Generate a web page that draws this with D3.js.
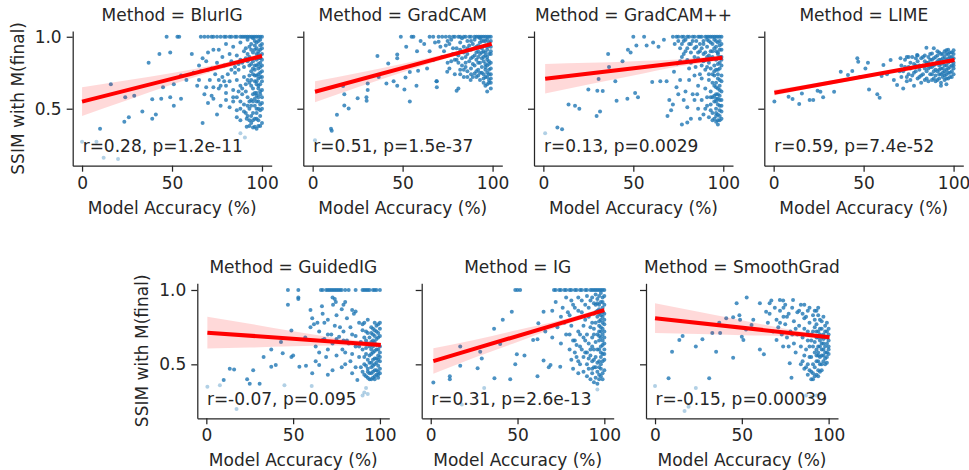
<!DOCTYPE html>
<html>
<head>
<meta charset="utf-8">
<script src="https://cdn.jsdelivr.net/npm/d3@7"></script>
<style>
  body { margin: 0; background: #fff; }
  text { font-family: "DejaVu Sans", sans-serif; fill: #262626; }
</style>
</head>
<body>
<svg id="chart" width="969" height="470"></svg>
<script>
// ---- data ----
var methods = ["BlurIG", "GradCAM", "GradCAM++", "LIME", "GuidedIG", "IG", "SmoothGrad"]
var statLabels = ["r=0.28, p=1.2e-11", "r=0.51, p=1.5e-37", "r=0.13, p=0.0029", "r=0.59, p=7.4e-52",
                  "r=-0.07, p=0.095", "r=0.31, p=2.6e-13", "r=-0.15, p=0.00039"]

// fitted line: x range and y at both ends
var fitX0 = [0, 1.3, 1, 0.4, 0.6, 1.5, 0]
var fitX1 = [100, 99.5, 99.5, 100.5, 100.5, 100, 100.5]
var fitY0 = [0.549, 0.618, 0.708, 0.611, 0.713, 0.522, 0.81]
var fitY1 = [0.866, 0.951, 0.854, 0.838, 0.63, 0.865, 0.682]
// half width of the confidence band at x = 0, 25, 50, 75, 100
var ciX = [0, 25, 50, 75, 100]
var ciHalf = [
  [0.10, 0.07, 0.04, 0.02, 0.018],
  [0.073, 0.05, 0.03, 0.015, 0.012],
  [0.103, 0.075, 0.05, 0.025, 0.018],
  [0.02, 0.015, 0.01, 0.006, 0.006],
  [0.107, 0.08, 0.05, 0.025, 0.018],
  [0.086, 0.06, 0.04, 0.02, 0.018],
  [0.10, 0.075, 0.05, 0.025, 0.015]
]

var blurIG = [[47,1],[53,1],[54,1],[66,1],[68,1],[70,1],[72,1],[73,1],[75,1],[77,1],[79,1],[80,1],[82,1],[83,1],[85,1],[86,1],[88,1],[89,1],[90,1],[91,1],[92,1],[93,1],[94,1],[95,1],[96,1],[97,1],[98,1],[99,1],[100,1],
  [43,0.88],[49,0.89],[61,0.88],[67,0.85],[70,0.89],[73,0.91],[76,0.91],[78,0.86],[80,0.95],[82,0.88],[84,0.93],[86,0.87],[88,0.96],[91,0.92],[93,0.86],[94,0.95],[95,0.89],[96,0.97],[97,0.92],[98,0.9],[99,0.94],[100,0.88],[92,0.98],[95,0.99],[97,0.96],[99,0.98],[93,0.93],[96,0.91],[98,0.97],[100,0.95],
  [37,0.82],[62,0.75],[65,0.8],[69,0.83],[72,0.78],[75,0.82],[79,0.8],[83,0.77],[85,0.75],[87,0.81],[90,0.79],[92,0.83],[93,0.8],[94,0.76],[96,0.8],[97,0.84],[98,0.78],[99,0.82],[100,0.76],[95,0.83],[96,0.77],[98,0.85],[99,0.79],[88,0.84],
  [16,0.67],[45,0.65],[51,0.67],[55,0.73],[58,0.7],[65,0.7],[69,0.65],[71,0.7],[73,0.65],[76,0.64],[78,0.72],[80,0.61],[82,0.69],[84,0.63],[86,0.7],[88,0.66],[90,0.72],[91,0.62],[93,0.68],[94,0.7],[95,0.64],[96,0.73],[97,0.67],[98,0.71],[99,0.62],[100,0.69],[95,0.74],[97,0.61],[99,0.72],[94,0.66],[96,0.69],[98,0.64],
  [24,0.58],[29,0.59],[39,0.565],[44,0.57],[49,0.58],[51,0.52],[55,0.57],[70,0.54],[72,0.59],[75,0.46],[77,0.52],[80,0.56],[82,0.51],[84,0.58],[86,0.49],[88,0.55],[89,0.6],[90,0.53],[91,0.47],[92,0.58],[93,0.5],[94,0.56],[95,0.47],[96,0.52],[97,0.59],[98,0.55],[99,0.49],[100,0.58],[95,0.55],[97,0.5],[94,0.52],[96,0.57],
  [10,0.36],[23.5,0.41],[26,0.44],[33.5,0.48],[39,0.43],[41,0.46],[67,0.4],[86,0.44],[88,0.42],[91.5,0.375],[91.5,0.43],[92,0.45],[93,0.38],[94,0.4],[96,0.375],[97,0.43],[95,0.42],
  [98,0.42],[99,0.45],[97,0.47],[100,0.5],[98,0.5],[99,0.53],[97,0.55],[100,0.54],[98,0.58],[99,0.6],[96,0.61],[100,0.63],[98,0.66],[97,0.69],[99,0.67],[100,0.72],[98,0.74],[97,0.73],[99,0.75],[100,0.8],[98,0.81],[97,0.8],[99,0.85],[100,0.84],[98,0.88],[97,0.88],[99,0.91],[100,0.92],[96,0.94],[94,0.91],[92,0.88],[90,0.9],[91,0.85],[89,0.82],[87,0.77],[85,0.79],[83,0.83],[81,0.74],[79,0.69],[77,0.66],[92,0.7],[93,0.73],[95,0.78],[94,0.81],[91,0.67],[89,0.64],[87,0.62],[93,0.55],[95,0.6],[92,0.52],[90,0.48],[94,0.45],[96,0.43],[98,0.38],[97,0.36],[95,0.37],[93,0.42],[100,0.4],[99,0.38],[84,0.55],[86,0.58],[88,0.5],[80,0.66],[76,0.7],[74,0.74],[70,0.77],[66,0.76],[64,0.66],[68,0.6],[73,0.57]]
var blurIGFaint = [[0,0.27],[8,0.27],[12,0.16],[20,0.15],[88,0.33],[90.5,0.3]]

var gradCAM = [[49,1],[55,1],[56,1],[65,1],[67,1],[70,1],[72,1],[74,1],[76,1],[78,1],[79,1],[81,1],[82,1],[84,1],[85,1],[87,1],[88,1],[90,1],[91,1],[92,1],[93,1],[94,1],[95,1],[96,1],[97,1],[98,1],[99,1],
  [52,0.93],[58,0.9],[62,0.95],[70,0.965],[65,0.9],[74,0.94],[77,0.98],[80,0.92],[82,0.96],[84,0.93],[86,0.97],[88,0.91],[89,0.95],[90,0.98],[91,0.93],[92,0.9],[93,0.96],[94,0.92],[95,0.97],[96,0.94],[97,0.91],[98,0.96],[99,0.93],[97,0.98],[95,0.9],[93,0.99],[87,0.94],[83,0.99],
  [36,0.866],[42,0.815],[47,0.877],[47,0.85],[67,0.838],[72,0.86],[75,0.82],[78,0.88],[80,0.84],[81,0.87],[83,0.85],[85,0.82],[86,0.88],[88,0.85],[89,0.81],[90,0.87],[91,0.84],[92,0.82],[93,0.88],[94,0.85],[95,0.83],[96,0.87],[97,0.84],[98,0.81],[99,0.88],[96,0.81],[94,0.89],[92,0.86],
  [36.7,0.72],[51.6,0.717],[54,0.755],[58.6,0.764],[63.6,0.78],[74.8,0.757],[69,0.69],[84,0.72],[87.8,0.7],[90,0.745],[93,0.7],[95,0.71],[97,0.67],[76,0.78],[79,0.74],[82,0.77],[86,0.76],[88,0.78],[91,0.76],[92,0.73],[94,0.75],[96,0.77],[98,0.74],[99,0.78],[89,0.72],[96,0.72],[98,0.7],[85,0.79],
  [16.9,0.657],[17.6,0.6],[30.6,0.676],[30.6,0.63],[41,0.676],[45,0.69],[47,0.66],[51,0.634],[57.7,0.66],[68.8,0.69],[69,0.65],[80,0.625],[81,0.64],[99,0.68],
  [25,0.572],[29.9,0.58],[30,0.556],[17.6,0.523],[20,0.502],[13.5,0.458],[54,0.55],
  [10.2,0.36],[10.6,0.347],
  [96,0.66],[98,0.68],[97,0.72],[99,0.71],[95,0.74],[97,0.75],[98,0.77],[99,0.74],[96,0.79],[97,0.8],[98,0.83],[99,0.82],[95,0.86],[97,0.86],[98,0.88],[99,0.9],[96,0.89],[97,0.93],[98,0.94],[99,0.97],[96,0.97],[94,0.97],[92,0.94],[90,0.92],[88,0.97],[86,0.92],[84,0.89],[82,0.91],[80,0.88],[78,0.92],[76,0.95],[91,0.89],[89,0.86],[87,0.83],[85,0.86],[83,0.8],[81,0.82],[79,0.84],[77,0.83],[93,0.82],[94,0.79],[92,0.77],[90,0.8],[88,0.74],[86,0.72],[84,0.77],[82,0.74],[93,0.75],[91,0.72],[95,0.68],[97,0.62],[99,0.64],[73,0.9],[75,0.97],[71,0.93],[68,0.96],[60,0.97]]
var gradCAMFaint = [[1.3,0.28]]

var gradCAMpp = [[50,1],[56,1],[67,0.98],[72,1],[74,1],[75,1],[77,1],[78,1],[80,1],[81,1],[83,1],[84,1],[86,1],[87,1],[88,1],[90,1],[91,1],[92,1],[93,1],[94,1],[95,1],[96,1],[97,1],[98,1],[99,1],
  [51.7,0.94],[57.4,0.94],[47,0.91],[48.5,0.89],[36,0.88],[61,0.96],[64,0.93],[73,0.95],[76,0.92],[78,0.97],[79,0.9],[82,0.95],[84,0.92],[85,0.97],[87,0.9],[89,0.88],[89,0.95],[91,0.93],[92,0.97],[93,0.9],[94,0.95],[95,0.92],[96,0.97],[97,0.89],[98,0.94],[99,0.91],[96,0.9],[98,0.97],
  [44,0.83],[36.5,0.79],[72.6,0.757],[74.4,0.815],[80,0.838],[84.6,0.79],[91,0.79],[77,0.86],[82,0.82],[86,0.85],[88,0.8],[90,0.84],[92,0.82],[93,0.78],[94,0.86],[95,0.8],[96,0.84],[97,0.77],[98,0.82],[99,0.86],[95,0.76],[97,0.85],[93,0.85],
  [30.7,0.706],[40,0.69],[25,0.634],[30,0.625],[33,0.623],[51,0.61],[60.5,0.685],[65,0.69],[68.5,0.69],[74,0.65],[76,0.7],[81,0.7],[84,0.73],[79,0.62],[86,0.66],[88,0.71],[90,0.64],[92,0.7],[93,0.62],[94,0.68],[95,0.73],[96,0.65],[97,0.71],[98,0.63],[99,0.69],[96,0.6],[94,0.74],
  [40.7,0.556],[46.7,0.57],[52.6,0.58],[14,0.53],[17.6,0.52],[20,0.5],[31.5,0.48],[70,0.56],[71,0.49],[78,0.56],[80,0.51],[84,0.56],[85.5,0.6],[88,0.56],[90,0.5],[91,0.58],[93,0.53],[94,0.47],[95,0.55],[96,0.5],[97,0.57],[98,0.52],[99,0.48],[95,0.59],[97,0.46],[96,0.55],[94,0.58],[98,0.56],[93,0.49],
  [29.6,0.45],[7.8,0.37],[10.4,0.357],[69,0.45],[77,0.39],[80,0.405],[82,0.43],[87,0.43],[92,0.44],[95,0.43],[96,0.41],[97,0.39],[98,0.42],[96,0.45],[94,0.42],
  [97,0.42],[98,0.45],[99,0.43],[96,0.47],[98,0.49],[99,0.52],[97,0.53],[96,0.57],[98,0.59],[99,0.56],[97,0.6],[98,0.66],[99,0.62],[97,0.64],[96,0.68],[98,0.7],[99,0.73],[97,0.74],[96,0.77],[98,0.78],[99,0.8],[97,0.81],[98,0.86],[99,0.84],[97,0.88],[96,0.93],[98,0.91],[99,0.95],[97,0.96],[95,0.98],[93,0.96],[91,0.98],[89,0.97],[87,0.95],[85,0.93],[83,0.97],[81,0.95],[79,0.98],[77,0.95],[75,0.97],[88,0.92],[86,0.89],[84,0.86],[82,0.89],[80,0.92],[78,0.88],[90,0.89],[92,0.87],[94,0.9],[91,0.86],[89,0.83],[76,0.83],[81,0.78],[87,0.74],[90,0.77],[92,0.74],[95,0.66],[93,0.58],[91,0.52],[89,0.46],[86,0.5],[83,0.6],[75,0.6],[72,0.53]]
var gradCAMppFaint = [[1,0.33]]

var lime = [[0.4,0.55],[8.3,0.583],[10.5,0.567],[14.2,0.532],[15.7,0.606],[20,0.56],[22,0.56],[24.4,0.625],[26,0.618],[27.5,0.58],[33.6,0.618],[37.3,0.757],[41.3,0.734],[43.7,0.762],[46.5,0.85],[47,0.826],[52.4,0.82],[51,0.78],[48,0.72],[53,0.634],[57.6,0.6],[58.9,0.576],[60,0.727],[63,0.74],[61,0.803],[65,0.838],[66.8,0.7],[68.6,0.664],[72,0.64],[74,0.69],[70.5,0.85],[79.7,0.873],[84.9,0.924],[88,0.884],[96,0.907],[100,0.907],
  [71,0.8],[72,0.76],[73,0.84],[74,0.72],[75,0.79],[76,0.82],[76,0.7],[77,0.86],[78,0.75],[79,0.8],[80,0.71],[80,0.83],[81,0.77],[82,0.85],[82,0.73],[83,0.8],[84,0.7],[84,0.87],[85,0.76],[86,0.82],[86,0.69],[87,0.79],[87,0.88],[88,0.74],[88,0.84],[89,0.71],[89,0.8],[90,0.86],[90,0.77],[91,0.83],[91,0.7],[92,0.8],[92,0.89],[92,0.74],[93,0.84],[93,0.68],[93,0.78],[94,0.88],[94,0.72],[94,0.82],[95,0.76],[95,0.86],[95,0.7],[96,0.8],[96,0.84],[96,0.74],[97,0.88],[97,0.78],[97,0.71],[98,0.83],[98,0.86],[98,0.75],[99,0.8],[99,0.89],[99,0.72],[100,0.85],[100,0.78],[100,0.82],[95,0.9],[97,0.91],[91,0.9],[89,0.92],[93,0.66],[96,0.67],[78,0.66],[82,0.68],
  [70,0.76],[71,0.72],[73,0.79],[74,0.86],[75,0.74],[76,0.78],[77,0.73],[78,0.81],[79,0.76],[80,0.87],[81,0.8],[81,0.72],[83,0.74],[83,0.86],[84,0.78],[85,0.82],[85,0.71],[86,0.78],[87,0.74],[87,0.84],[88,0.79],[88,0.7],[89,0.85],[89,0.76],[90,0.81],[90,0.73],[91,0.76],[91,0.87],[92,0.77],[92,0.84],[93,0.81],[93,0.74],[93,0.88],[94,0.78],[94,0.85],[95,0.73],[95,0.8],[95,0.83],[96,0.77],[96,0.88],[96,0.71],[97,0.75],[97,0.82],[97,0.85],[98,0.72],[98,0.79],[98,0.89],[99,0.76],[99,0.83],[99,0.86],[100,0.74],[100,0.8],[100,0.88],[94,0.75],[92,0.71],[90,0.69],[86,0.86],[84,0.83],[79,0.85],[75,0.86]]
var limeFaint = []

var guidedIG = [[47,1],[53,1],[66,1],[67,1],[69,1],[70,1],[71,1],[72,1],[73,1],[74,1],[75,1],[76,1],[77,1],[78,1],[80,1],[82,1],[86,1],[90,1],[91,1],[92,1],[93,1],[94,1],[96,1],[97,1],[98,1],[100,1],
  [47,0.9],[53,0.95],[53,0.94],[60,0.866],[66.6,0.89],[72.7,0.95],[74.6,0.92],[74,0.94],[80,0.92],[79,0.9],[84,0.866],[86,0.855],[85,0.84],[73,0.9],
  [49,0.727],[43,0.65],[37.4,0.6],[33,0.55],[44,0.574],[49,0.55],[50,0.56],[63,0.62],[67,0.664],[72.7,0.64],[76.5,0.686],[78.4,0.6],[84,0.57],[60,0.75],[62,0.77],[65,0.72],[68,0.78],[70,0.7],[74,0.76],[79,0.72],[81,0.66],[83,0.75],[86,0.69],[88,0.62],[88,0.78],[90,0.73],[91,0.78],[92,0.66],[93,0.8],[93,0.71],[94,0.62],[95,0.75],[96,0.7],[96,0.58],[97,0.78],[97,0.65],[98,0.72],[98,0.6],[99,0.68],[99,0.56],[100,0.74],[100,0.62],[94,0.68],[95,0.6],[92,0.57],[90,0.6],[57,0.68],[70,0.6],[75,0.56],[80,0.58],
  [37.4,0.484],[40,0.495],[27,0.46],[13.5,0.47],[16,0.466],[10,0.395],[23.5,0.4],[25,0.37],[30.7,0.37],[53.6,0.484],[57.4,0.49],[65,0.495],[69,0.55],[72.7,0.46],[70,0.43],[84,0.44],[87,0.395],[90,0.45],[91,0.5],[92,0.42],[93,0.47],[93,0.53],[94,0.44],[94,0.51],[95,0.4],[95,0.48],[96,0.45],[96,0.53],[97,0.42],[97,0.5],[98,0.46],[98,0.54],[99,0.41],[99,0.49],[100,0.44],[100,0.52],[91,0.43],[89,0.48],[61,0.44],[78,0.48],
  [95,0.44],[96,0.41],[97,0.46],[98,0.43],[99,0.45],[100,0.47],[95,0.51],[96,0.49],[97,0.54],[98,0.51],[99,0.53],[100,0.55],[94,0.56],[95,0.57],[96,0.62],[97,0.59],[98,0.63],[99,0.6],[100,0.58],[95,0.65],[96,0.66],[97,0.69],[98,0.67],[99,0.71],[100,0.69],[95,0.71],[96,0.74],[97,0.73],[98,0.76],[99,0.77],[100,0.78],[93,0.45],[92,0.49],[91,0.55],[92,0.61],[93,0.64],[91,0.68],[92,0.72],[90,0.77],[89,0.65],[88,0.55],[86,0.62],[84,0.7],[82,0.64],[79,0.66],[77,0.75],[75,0.67],[72,0.7],[68,0.67],[65,0.58],[63,0.52],[86,0.48],[83,0.52],[80,0.5],[94,0.4],[93,0.41],[97,0.4],[99,0.43],[64,0.78],[67,0.84],[70,0.8],[75,0.83],[78,0.87],[81,0.81],[61,0.81]]
var guidedIGFaint = [[0.6,0.35],[7.8,0.36],[17.4,0.2],[45,0.36],[60.7,0.355],[90,0.29],[92,0.34],[91,0.31],[93,0.3]]

var ig = [[48.7,1],[51.5,1],[50,1],[71,1],[72,1],[74,1],[75,1],[77,1],[78,1],[80,1],[81,1],[83,1],[84,1],[86,1],[87,1],[89,1],[90,1],[92,1],[93,1],[94,1],[95,1],[96,1],[97,1],[98,1],[99,1],[100,1],
  [46.7,0.854],[41.5,0.8],[36.5,0.74],[65,0.854],[62,0.776],[70,0.86],[72,0.92],[76,0.88],[78,0.95],[80,0.83],[82,0.9],[85,0.86],[87,0.93],[89,0.8],[91,0.88],[93,0.95],[94,0.84],[95,0.9],[96,0.82],[97,0.96],[97,0.87],[98,0.92],[98,0.8],[99,0.88],[99,0.95],[100,0.84],[96,0.91],[95,0.97],[98,0.98],
  [17,0.62],[28.5,0.585],[40,0.636],[29.4,0.54],[49.6,0.567],[54,0.56],[61.5,0.668],[59,0.664],[48.7,0.5],[66,0.72],[70,0.68],[73,0.75],[75,0.64],[78,0.7],[80,0.6],[81,0.76],[83,0.66],[84,0.55],[85,0.72],[86,0.62],[88,0.68],[88,0.76],[89,0.58],[90,0.7],[91,0.64],[92,0.75],[92,0.56],[93,0.68],[94,0.6],[94,0.74],[95,0.65],[95,0.55],[96,0.7],[96,0.6],[97,0.76],[97,0.66],[98,0.58],[98,0.72],[99,0.63],[99,0.78],[100,0.68],[100,0.57],[97,0.52],[93,0.52],[90,0.5],[86,0.5],
  [17,0.49],[27,0.473],[11,0.42],[11,0.4],[1.5,0.377],[36.7,0.406],[45.8,0.4],[61.5,0.42],[65,0.525],[68,0.48],[69,0.495],[74.6,0.484],[82,0.47],[85,0.44],[88,0.45],[90,0.42],[91,0.47],[92,0.4],[93,0.44],[94,0.48],[95,0.41],[96,0.45],[97,0.43],[98,0.47],[99,0.4],[94,0.38],[96,0.37],
  [97,0.4],[98,0.42],[99,0.44],[100,0.46],[97,0.48],[98,0.5],[99,0.52],[100,0.53],[98,0.55],[99,0.57],[100,0.6],[97,0.6],[98,0.62],[99,0.66],[100,0.64],[97,0.69],[98,0.68],[99,0.7],[100,0.72],[97,0.72],[98,0.75],[99,0.74],[100,0.77],[97,0.79],[98,0.83],[99,0.82],[100,0.8],[97,0.84],[98,0.86],[99,0.85],[100,0.9],[97,0.9],[96,0.94],[99,0.92],[100,0.96],[96,0.86],[95,0.78],[94,0.7],[93,0.62],[92,0.6],[91,0.54],[90,0.58],[89,0.66],[88,0.55],[87,0.6],[86,0.7],[85,0.52],[84,0.63],[83,0.58],[82,0.66],[81,0.53],[80,0.7],[91,0.82],[89,0.9],[87,0.85],[85,0.95],[83,0.88],[81,0.93],[79,0.85],[77,0.78],[75,0.82],[93,0.78],[95,0.85],[94,0.91],[92,0.93],[90,0.96],[94,0.53],[96,0.51],[95,0.48],[93,0.47]]
var igFaint = [[30.8,0.34],[17.9,0.23],[96,0.33]]

var smoothGrad = [[7.8,0.406],[9.8,0.585],[14,0.664],[15.9,0.69],[23.5,0.62],[27.3,0.668],[31.2,0.406],[33,0.71],[35.2,0.585],[37.5,0.71],[37,0.78],[41,0.81],[45,0.816],[45,0.545],[47,0.91],[48.6,0.83],[49,0.8],[50,0.686],[50.9,0.664],[52.8,0.95],[52.4,0.735],[55.6,0.764],[56.6,0.8],[60.4,0.91],[60.4,0.6],[62.7,0.567],[64,0.854],[66,0.91],[67,0.93],[71.9,0.933],[73.8,0.93],[79.5,0.933],[70,0.664],[73.8,0.62],[77.6,0.507],[78.6,0.41],
  [65,0.78],[66,0.84],[68,0.72],[69,0.88],[70,0.8],[71,0.75],[72,0.86],[73,0.7],[74,0.82],[75,0.77],[75,0.9],[76,0.68],[77,0.84],[78,0.72],[79,0.88],[80,0.64],[80,0.79],[81,0.58],[82,0.85],[82,0.7],[83,0.76],[84,0.62],[84,0.9],[85,0.68],[85,0.52],[86,0.81],[86,0.74],[87,0.6],[87,0.48],[88,0.86],[88,0.66],[89,0.55],[89,0.78],[90,0.7],[90,0.45],[91,0.83],[91,0.62],[91,0.5],[92,0.75],[92,0.58],[92,0.42],[93,0.86],[93,0.68],[93,0.52],[94,0.72],[94,0.62],[94,0.46],[95,0.8],[95,0.66],[95,0.55],[96,0.74],[96,0.6],[96,0.5],[97,0.7],[97,0.64],[97,0.56],[98,0.76],[98,0.62],[98,0.54],[99,0.68],[99,0.58],[99,0.72],[100,0.66],[100,0.6],[100,0.7],[90,0.4],[88,0.43],[86,0.47],[94,0.56],[96,0.68],
  [92,0.8],[93,0.77],[94,0.83],[95,0.74],[96,0.79],[97,0.82],[98,0.72],[99,0.78],[100,0.74],[93,0.72],[94,0.68],[95,0.7],[96,0.64],[97,0.67],[98,0.68],[99,0.64],[100,0.62],[93,0.6],[94,0.58],[95,0.62],[96,0.56],[97,0.6],[98,0.58],[99,0.55],[100,0.57],[93,0.56],[94,0.52],[95,0.5],[96,0.46],[97,0.52],[98,0.5],[99,0.51],[92,0.48],[91,0.44],[93,0.43],[95,0.45],[94,0.42],[91,0.4],[89,0.46],[89,0.62],[90,0.66],[88,0.72],[87,0.82],[85,0.84],[83,0.86],[81,0.74],[79,0.7],[77,0.62],[76,0.82],[74,0.88],[72,0.78],[86,0.56],[84,0.5],[88,0.5],[90,0.55],[91,0.72],[92,0.65],[89,0.88],[86,0.9],[92,0.86],[94,0.88]]
var smoothGradFaint = [[0,0.354],[17,0.186],[19.3,0.215],[23.5,0.34],[87,0.29],[90,0.28],[93,0.29],[95,0.3]]

var xTicks = [0, 50, 100]
var yTicks = [0.5, 1.0]

// ---- layout ----
var pointSets = [blurIG, gradCAM, gradCAMpp, lime, guidedIG, ig, smoothGrad]
var faintSets = [blurIGFaint, gradCAMFaint, gradCAMppFaint, limeFaint, guidedIGFaint, igFaint, smoothGradFaint]
var panelLeft = [72.7, 303.3, 534, 764.3, 197.3, 421.7, 646]
var panelRow = [0, 0, 0, 0, 1, 1, 1]
var rowWidth = [199, 192]
var rowTop = [31, 283.3]
var rowBottom = [165.7, 418.3]
var rowYDomain = [[0.104, 1.04], [0.137, 1.045]]

var svg = d3.select("#chart")
var fontSize = 17

methods.forEach(function(m, i) {
    var row = panelRow[i]
    var x0 = panelLeft[i], w = rowWidth[row]
    var top = rowTop[row], bottom = rowBottom[row]

    var x = d3.scaleLinear().domain([-5.2, 105.4]).range([x0, x0 + w])
    var y = d3.scaleLinear().domain(rowYDomain[row]).range([bottom, top])

    var g = svg.append("g")

    // scatter
    g.selectAll("circle.f").data(faintSets[i]).enter().append("circle")
        .attr("cx", function(d) { return x(d[0]) })
        .attr("cy", function(d) { return y(d[1]) })
        .attr("r", 2)
        .style("fill", "#1f77b4")
        .style("opacity", 0.35)
    g.selectAll("circle.p").data(pointSets[i]).enter().append("circle")
        .attr("cx", function(d) { return x(d[0]) })
        .attr("cy", function(d) { return y(d[1]) })
        .attr("r", 2)
        .style("fill", "#1f77b4")
        .style("opacity", 0.8)

    // regression line + band
    var slope = (fitY1[i] - fitY0[i]) / (fitX1[i] - fitX0[i])
    var lineAt = function(v) { return fitY0[i] + slope * (v - fitX0[i]) }
    var band = ciX.map(function(v, k) { return { x: v, h: ciHalf[i][k] } })
        .filter(function(d) { return d.x >= fitX0[i] && d.x <= fitX1[i] })
    band.unshift({ x: fitX0[i], h: ciHalf[i][0] })
    band.push({ x: fitX1[i], h: ciHalf[i][4] })

    g.append("path")
        .datum(band)
        .attr("d", d3.area().curve(d3.curveMonotoneX)
            .x(function(d) { return x(d.x) })
            .y0(function(d) { return y(lineAt(d.x) - d.h) })
            .y1(function(d) { return y(lineAt(d.x) + d.h) }))
        .style("fill", "red")
        .style("opacity", 0.15)

    g.append("line")
        .attr("x1", x(fitX0[i])).attr("y1", y(fitY0[i]))
        .attr("x2", x(fitX1[i])).attr("y2", y(fitY1[i]))
        .style("stroke", "red")
        .style("stroke-width", 4)

    // axes
    var xAxis = d3.axisBottom(x).tickValues(xTicks).tickSize(6).tickSizeOuter(0).tickPadding(5)
    var yAxis = d3.axisLeft(y).tickValues(yTicks).tickSize(6).tickSizeOuter(0).tickPadding(5)
        .tickFormat(d3.format(".1f"))

    var gx = g.append("g").attr("transform", "translate(0," + bottom + ")").call(xAxis)
    var gy = g.append("g").attr("transform", "translate(" + x0 + ",0)").call(yAxis)
    if (i != 0 && i != 4) gy.selectAll(".tick text").remove()

    g.selectAll(".domain, .tick line").style("stroke", "#262626").style("stroke-width", 1.25)
    g.selectAll(".tick text").style("font-size", fontSize + "px").style("font-family", "DejaVu Sans").style("fill", "#262626")

    // annotation
    g.append("text")
        .attr("x", x0 + w * 0.05)
        .attr("y", bottom - (bottom - top) * 0.1)
        .style("font-size", fontSize + "px")
        .text(statLabels[i])

    // title
    g.append("text")
        .attr("x", x0 + w / 2)
        .attr("y", top - 10)
        .attr("text-anchor", "middle")
        .style("font-size", fontSize + "px")
        .text("Method = " + m)

    // x label
    g.append("text")
        .attr("x", x0 + w / 2)
        .attr("y", bottom + 48)
        .attr("text-anchor", "middle")
        .style("font-size", fontSize + "px")
        .text("Model Accuracy (%)")

    if (i == 0 || i == 4) {
        g.append("text")
            .attr("transform", "translate(" + (x0 - 49) + "," + ((top + bottom) / 2) + ") rotate(-90)")
            .attr("text-anchor", "middle")
            .style("font-size", fontSize + "px")
            .text("SSIM with M(final)")
    }
})
</script>
</body>
</html>
